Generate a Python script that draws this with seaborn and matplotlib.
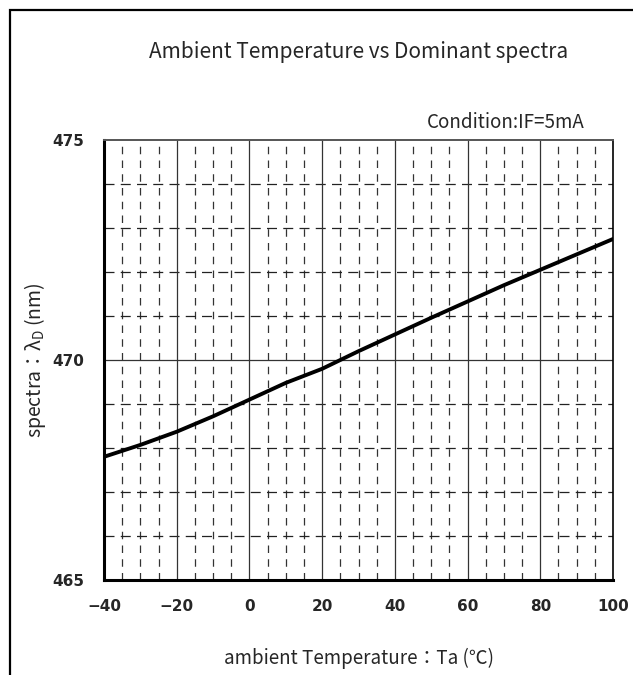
import matplotlib
matplotlib.use("Agg")
import matplotlib.pyplot as plt
import matplotlib.patches as mpatches
import seaborn as sns
import pandas as pd
import numpy as np

# Data
temperature = [-40, -30, -20, -10, 0, 10, 20, 30, 40, 50, 60, 70, 80, 90, 100]
wavelength = [467.80, 468.07, 468.37, 468.72, 469.10, 469.48, 469.80, 470.20,
              470.58, 470.96, 471.33, 471.70, 472.05, 472.40, 472.75]
x_ticks = [-40, -20, 0, 20, 40, 60, 80, 100]
y_ticks = [465, 470, 475]

title = "Ambient Temperature vs Dominant spectra"
condition = "Condition:IF=5mA"
xlabel = "ambient Temperature：Ta (℃)"
ylabel = r"spectra：λ$_{\mathrm{D}}$ (nm)"

sns.set_style("white")
plt.rcParams['font.family'] = ['Noto Sans CJK JP', 'DejaVu Sans']
plt.rcParams['mathtext.fontset'] = 'custom'
plt.rcParams['mathtext.rm'] = 'Noto Sans CJK JP'
plt.rcParams['axes.unicode_minus'] = True

df = pd.DataFrame({"Ta": temperature, "wl": wavelength})

fig = plt.figure(figsize=(6.33, 6.75), dpi=100)
ax = fig.add_axes([104/633, 1 - 580/675, (613 - 104)/633, (580 - 140)/675])

# minor dashed grid
for xv in np.arange(-35, 100, 5):
    if xv % 20 != 0:
        ax.axvline(xv, color="#333333", lw=0.9, ls=(0, (6, 5)), zorder=1)
for yv in np.arange(466, 475, 1):
    if yv % 5 != 0:
        ax.axhline(yv, color="#222222", lw=0.9, ls=(0, (8, 5)), zorder=1)
# major solid grid
for xv in x_ticks[1:-1]:
    ax.axvline(xv, color="#333333", lw=0.9, zorder=1)
ax.axhline(470, color="#333333", lw=0.9, zorder=1)

sns.lineplot(data=df, x="Ta", y="wl", ax=ax, color="black", lw=2.8, zorder=3)

ax.set_xlim(-40, 100)
ax.set_ylim(465, 475)
ax.set_xticks(x_ticks)
ax.set_yticks(y_ticks)
ax.set_xticklabels([f"{v}".replace("-", "−") for v in x_ticks],
                   family=['Liberation Sans Narrow', 'DejaVu Sans'], fontweight='bold', fontsize=11)
ax.set_yticklabels([str(v) for v in y_ticks],
                   family=['Liberation Sans Narrow', 'DejaVu Sans'], fontweight='bold', fontsize=11)
ax.tick_params(axis='x', length=0, pad=14)
ax.tick_params(axis='y', length=4, direction='out', pad=10, width=1)

ax.set_xlabel(xlabel, fontsize=13.5)
ax.set_ylabel(ylabel, fontsize=14)
ax.yaxis.set_label_coords((48 - 104) / 509, 0.5)
ax.xaxis.set_label_coords(0.5, -(648 - 580) / 440)

for side in ["left", "bottom"]:
    ax.spines[side].set_linewidth(2.2)
    ax.spines[side].set_color("black")
ax.spines["top"].set_linewidth(1.4)
ax.spines["top"].set_color("#555555")
ax.spines["right"].set_linewidth(1.2)
ax.spines["right"].set_color("black")

fig.text((104 + 613) / 2 / 633, 1 - 52 / 675, title, ha="center", va="center", fontsize=15)
fig.text(585 / 633, 1 - 122 / 675, condition, ha="right", va="center", fontsize=13.5)

frame = mpatches.Rectangle((10 / 633, -0.2), 1.5, 1.2 - 10 / 675,
                           transform=fig.transFigure, fill=False, lw=1.6, edgecolor="black")
fig.patches.append(frame)

fig.savefig("out.png", dpi=100)
